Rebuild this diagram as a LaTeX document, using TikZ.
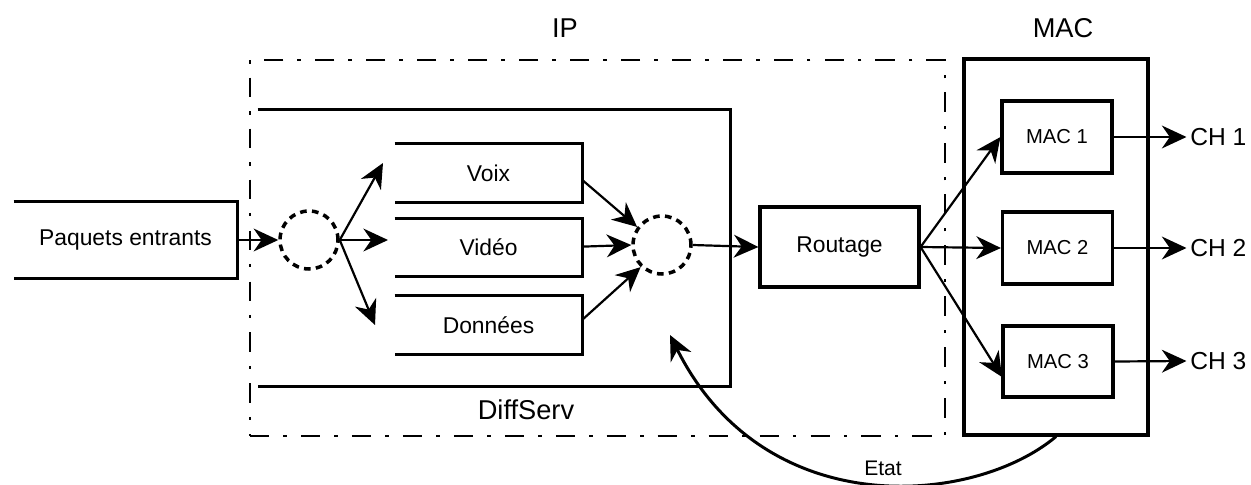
\documentclass[tikz,border=0pt]{standalone}
\usepackage{fontspec}
\setmainfont{Liberation Sans}
\usetikzlibrary{arrows.meta}
\begin{document}
\begin{tikzpicture}[x=0.02cm,y=-0.02cm,
  box/.style={draw, line width=1.8pt, inner sep=0pt},
  openbox/.style={inner sep=0pt},
  openline/.style={line width=1.8pt, line join=miter},
  arr/.style={line width=1.25pt, -{Stealth[length=14pt,width=13pt,inset=4.5pt]}},
  qcirc/.style={circle, draw, line width=2pt, dash pattern=on 3.8pt off 3pt, minimum size=1.16cm, inner sep=0pt},
  ipframe/.style={draw, line width=1.4pt, dash pattern=on 11pt off 8pt on 2pt off 8pt, inner sep=0pt},
  lbl/.style={font=\fontsize{13}{15}\selectfont},
  maclbl/.style={font=\fontsize{11.5}{13}\selectfont},
  chlbl/.style={font=\fontsize{14}{16}\selectfont, anchor=west, inner sep=0pt},
  big/.style={font=\fontsize{15.5}{18}\selectfont}
]
\useasboundingbox (0,0) rectangle (1251,484);

% frames
\node[ipframe, minimum width=13.9cm, minimum height=7.52cm] (ip) at (597.5,248) {};
\node[box, minimum width=3.68cm, minimum height=7.52cm] (mac) at (1056,247) {};
\node[big] (iplbl) at (565,28) {IP};
\node[big] (maclbl) at (1063,28) {MAC};

% DiffServ (open on the left)
\node[openbox, minimum width=9.44cm, minimum height=5.52cm] (ds) at (494,248) {};
\draw[openline] (ds.north west) -- (ds.north east) -- (ds.south east) -- (ds.south west);
\node[big] (dslbl) at (526,410) {DiffServ};

% input box
\node[openbox, minimum width=4.46cm, minimum height=1.52cm, lbl] (in) at (125.5,240) {Paquets entrants};
\draw[openline] (in.north west) -- (in.north east) -- (in.south east) -- (in.south west);

% queues
\node[openbox, minimum width=3.74cm, minimum height=1.16cm, lbl] (voix) at (488.5,173) {Voix};
\node[openbox, minimum width=3.74cm, minimum height=1.14cm, lbl] (video) at (488.5,247.5) {Vidéo};
\node[openbox, minimum width=3.74cm, minimum height=1.16cm, lbl] (data) at (488.5,325) {Données};
\foreach \q in {voix,video,data}
  \draw[openline] (\q.north west) -- (\q.north east) -- (\q.south east) -- (\q.south west);

% circles
\node[qcirc] (c1) at (309,240) {};
\node[qcirc] (c2) at (662,245) {};

% routage and MAC blocks
\node[box, minimum width=3.18cm, minimum height=1.6cm, lbl] (rt) at (839.5,247) {Routage};
\node[box, minimum width=2.2cm, minimum height=1.44cm, maclbl] (m1) at (1057,137) {MAC 1};
\node[box, minimum width=2.2cm, minimum height=1.44cm, maclbl] (m2) at (1057.5,248) {MAC 2};
\node[box, minimum width=2.2cm, minimum height=1.42cm, maclbl] (m3) at (1058,361.5) {MAC 3};

% channels
\node[chlbl] (ch1) at (1190,137) {CH 1};
\node[chlbl] (ch2) at (1190,248) {CH 2};
\node[chlbl] (ch3) at (1190,361) {CH 3};

% free ends
\coordinate (f1) at (383,163);
\coordinate (f2) at (388,240);
\coordinate (f3) at (375,325);
\coordinate (m3in) at (1002,377);
\coordinate (etattip) at (670,335);

% connectors
\draw[arr] (in.east) -- (c1.west);
\draw[arr] (c1.east) -- (f1);
\draw[arr] (c1.east) -- (f2);
\draw[arr] (c1.east) -- (f3);
\draw[arr] ([yshift=-4pt]voix.east) -- (c2.144);
\draw[arr] ([yshift=0.5pt]video.east) -- (c2.west);
\draw[arr] ([yshift=3pt]data.east) -- (c2.226);
\draw[arr] (c2.east) -- (rt.west);
\draw[arr] (rt.east) -- (m1.west);
\draw[arr] (rt.east) -- (m2.west);
\draw[arr] (rt.east) -- (m3in);
\draw[arr, shorten >=0pt] (m1.east) -- ([xshift=-2pt]ch1.west);
\draw[arr] (m2.east) -- ([xshift=-2pt]ch2.west);
\draw[arr] (m3.east) -- ([xshift=-2pt]ch3.west);
\draw[arr, line width=1.7pt] (mac.south) .. controls (975,505) and (765,525) .. (etattip);
\node[font=\fontsize{12}{14}\selectfont] (etat) at (883,468) {Etat};
\end{tikzpicture}
\end{document}
